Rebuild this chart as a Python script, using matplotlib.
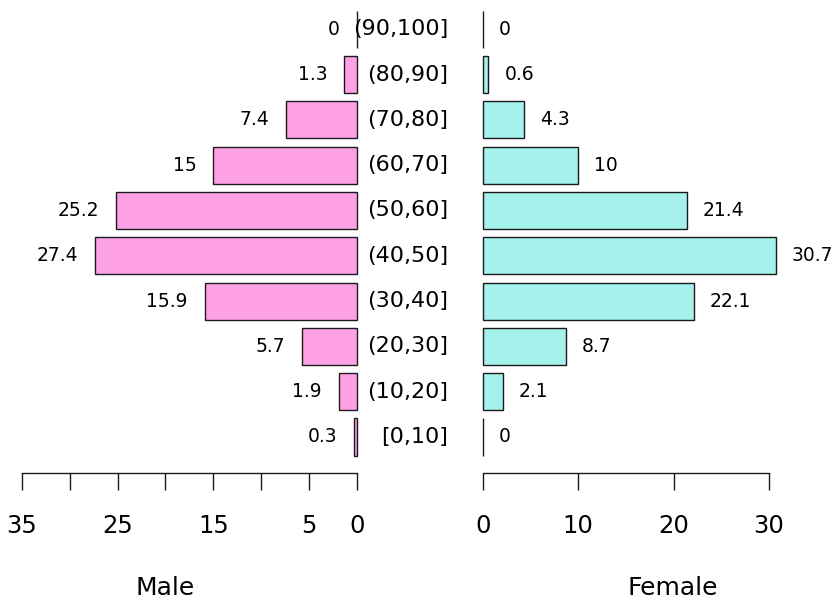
import matplotlib.pyplot as plt
from matplotlib.transforms import blended_transform_factory

plt.rcParams['font.family'] = ['DejaVu Sans']

# Data
ages = ["[0,10]", "(10,20]", "(20,30]", "(30,40]", "(40,50]",
        "(50,60]", "(60,70]", "(70,80]", "(80,90]", "(90,100]"]
male = [0.3, 1.9, 5.7, 15.9, 27.4, 25.2, 15, 7.4, 1.3, 0]
female = [0, 2.1, 8.7, 22.1, 30.7, 21.4, 10, 4.3, 0.6, 0]
male_ticks = [0, 5, 10, 15, 20, 25, 30, 35]
male_ticklabels = ["0", "5", "", "15", "", "25", "", "35"]
female_ticks = [0, 10, 20, 30]

W, H = 837, 605
fig = plt.figure(figsize=(W / 100, H / 100), dpi=100)

def px_axes(x0, x1, y_top, y_bot):
    return fig.add_axes([x0 / W, 1 - y_bot / H, (x1 - x0) / W, (y_bot - y_top) / H])

axL = px_axes(22, 356.7, 0, 473)
axR = px_axes(482.7, 769, 0, 473)

pink = "#FDA0E6"
cyan = "#A5F1EB"
edge = "#1a1a1a"
ylim = (-0.795, 9.647)
y = list(range(len(ages)))

for ax, vals, col, xl in [(axL, male, pink, (35, 0)), (axR, female, cyan, (0, 30))]:
    ax.barh(y, vals, height=0.82, color=col, edgecolor=edge, linewidth=1.0, clip_on=False)
    ax.set_xlim(*xl)
    ax.set_ylim(*ylim)
    for s in ["top", "left", "right"]:
        ax.spines[s].set_visible(False)
    ax.spines["bottom"].set_color(edge)
    ax.spines["bottom"].set_linewidth(1.0)
    ax.set_yticks([])
    ax.tick_params(axis="x", direction="out", length=12.2, width=1.0,
                   color=edge, pad=17, labelsize=17.5)
    ax.patch.set_visible(False)

axL.set_xticks(male_ticks)
axL.set_xticklabels(male_ticklabels)
axL.spines["bottom"].set_bounds(0, 35)
axR.set_xticks(female_ticks)
axR.spines["bottom"].set_bounds(0, 30)

# value labels
for yi, v in zip(y, male):
    axL.annotate(f"{v:g}", (v, yi), xytext=(-12, 0), textcoords="offset points",
                 ha="right", va="center", fontsize=13.5, annotation_clip=False)
for yi, v in zip(y, female):
    axR.annotate(f"{v:g}", (v, yi), xytext=(11.5, 0), textcoords="offset points",
                 ha="left", va="center", fontsize=13.5, annotation_clip=False)

# age group labels
tr = blended_transform_factory(fig.transFigure, axL.transData)
for yi, a in zip(y, ages):
    axL.text(448 / W, yi, a, transform=tr, ha="right", va="center",
             fontsize=16, clip_on=False)

fig.text(165 / W, 1 - 588 / H, "Male", ha="center", va="center", fontsize=18)
fig.text(673 / W, 1 - 588 / H, "Female", ha="center", va="center", fontsize=18)

fig.savefig("out.png", dpi=100)
